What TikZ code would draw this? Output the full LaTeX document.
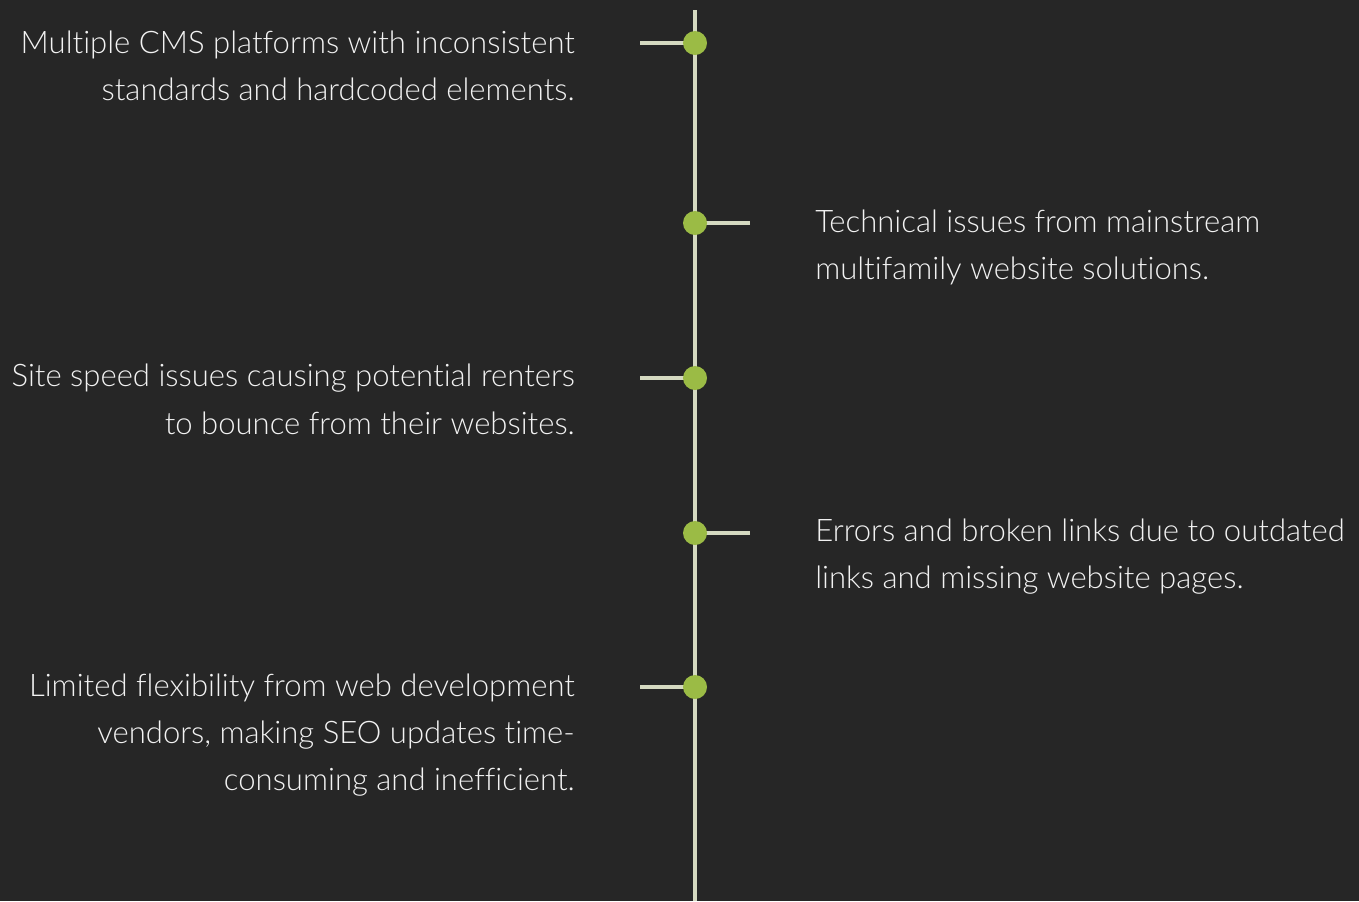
\documentclass[tikz,border=0pt]{standalone}
\usepackage{fontspec}
\setmainfont{Lato Light}[Ligatures={NoCommon,NoRare}]
\definecolor{bg}{HTML}{262626}
\definecolor{axis}{HTML}{D4D9C0}
\definecolor{dotc}{HTML}{9BBB45}
\definecolor{txt}{HTML}{F2F2F2}
\begin{document}
\begin{tikzpicture}[x=0.75pt,y=-0.75pt,
  lbl/.style={text=txt,inner sep=0pt,font=\fontsize{23.3}{27}\selectfont},
  ltxt/.style={lbl,anchor=base east},
  rtxt/.style={lbl,anchor=base west},
  dotn/.style={circle,fill=dotc,minimum size=18pt,inner sep=0pt},
  stem/.style={draw=axis,line width=3pt}]
\fill[bg] (0,0) rectangle (1359,901);
\useasboundingbox (0,0) rectangle (1359,901);
\coordinate (top) at (695,10);
\coordinate (bot) at (695,901);
\draw[stem] (top) -- (bot);
% dots and stubs
\coordinate (s1) at (640,43);
\coordinate (s2) at (750,223);
\coordinate (s3) at (640,378);
\coordinate (s4) at (750,533);
\coordinate (s5) at (640,687);
\draw[stem] (s1) -- (695,43);
\draw[stem] (s2) -- (695,223);
\draw[stem] (s3) -- (695,378);
\draw[stem] (s4) -- (695,533);
\draw[stem] (s5) -- (695,687);
\node[dotn] (d1) at (695,43) {};
\node[dotn] (d2) at (695,223) {};
\node[dotn] (d3) at (695,378) {};
\node[dotn] (d4) at (695,533) {};
\node[dotn] (d5) at (695,687) {};
% texts
\node[ltxt] (t1a) at (575,53) {Multiple CMS platforms with inconsistent};
\node[ltxt] (t1b) at (575,100) {standards and hardcoded elements.};
\node[rtxt] (t2a) at (815,232) {Technical issues from mainstream};
\node[rtxt] (t2b) at (815,279) {multifamily website solutions.};
\node[ltxt] (t3a) at (575,386) {Site speed issues causing potential renters};
\node[ltxt] (t3b) at (575,434) {to bounce from their websites.};
\node[rtxt] (t4a) at (815,541) {Errors and broken links due to outdated};
\node[rtxt] (t4b) at (815,588) {links and missing website pages.};
\node[ltxt] (t5a) at (575,696) {Limited flexibility from web development};
\node[ltxt] (t5b) at (575,743) {vendors, making SEO updates time-};
\node[ltxt] (t5c) at (575,790) {consuming and inefficient.};
\end{tikzpicture}
\end{document}
